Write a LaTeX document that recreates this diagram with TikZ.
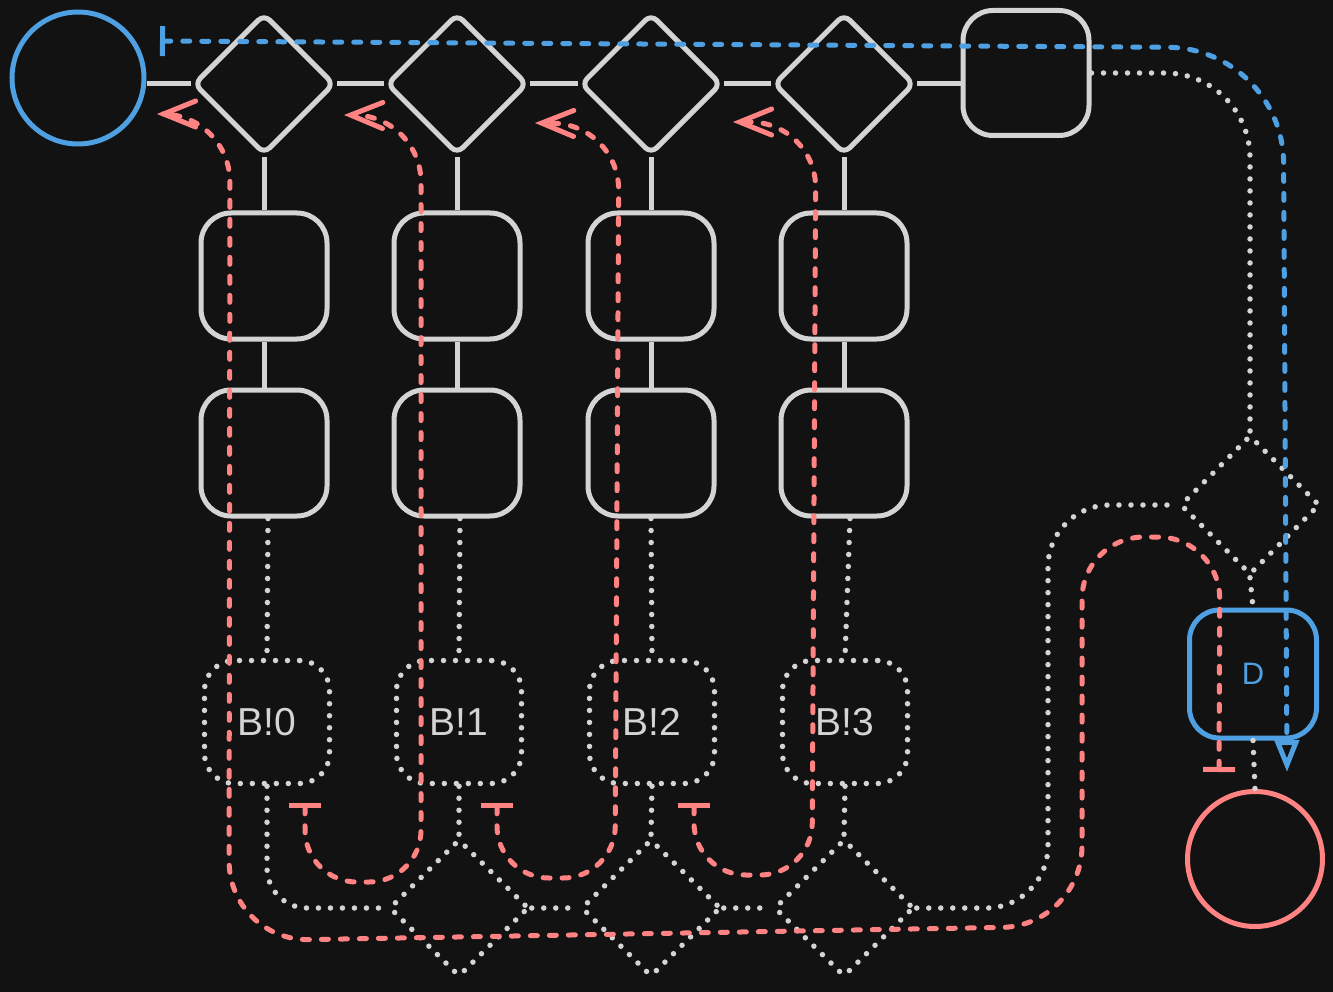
\documentclass[tikz,border=0pt]{standalone}
\usepackage{fontspec}
\setmainfont{Liberation Sans}
\usetikzlibrary{shapes.geometric,arrows.meta}
\definecolor{bg}{HTML}{121212}
\definecolor{fg}{HTML}{D4D4D4}
\definecolor{bl}{HTML}{4FA0E2}
\definecolor{rd}{HTML}{FF8383}
\tikzset{
  sbox/.style={draw=fg, line width=5pt, rounded corners=30pt, minimum width=126pt, minimum height=126pt, inner sep=0pt},
  dbox/.style={draw=fg, line width=5.5pt, line cap=round, dash pattern=on 0pt off 12pt, rounded corners=30pt, minimum width=125pt, minimum height=123pt, inner sep=0pt, text=fg, font=\fontsize{39}{40}\selectfont},
  diam/.style={diamond, draw=fg, line width=5pt, minimum width=141pt, minimum height=141pt, inner sep=0pt, rounded corners=8pt},
  ddiam/.style={diamond, draw=fg, line width=5.5pt, line cap=round, dash pattern=on 0pt off 12pt, minimum width=140pt, minimum height=138pt, inner sep=0pt, rounded corners=4pt},
  gline/.style={draw=fg, line width=5pt},
  dline/.style={draw=fg, line width=5.5pt, line cap=round, dash pattern=on 0pt off 12pt},
  rdash/.style={draw=rd, line width=5pt, line cap=round, dash pattern=on 7pt off 12pt},
  bdash/.style={draw=bl, line width=5pt, line cap=round, dash pattern=on 7pt off 12pt},
  barb/.tip={Straight Barb[length=32pt,width=26pt,line cap=round]},
}
\begin{document}
\begin{tikzpicture}[x=1pt,y=-1pt]
\useasboundingbox (0,0) rectangle (1333,992);
\fill[bg] (0,0) rectangle (1333,992);

% top row
\node[circle, draw=bl, line width=5pt, minimum size=132pt, inner sep=0pt] (circ) at (78,78) {};
\foreach \i/\x in {1/264,2/457,3/651,4/844} {
  \node[diam] (D\i) at (\x,84) {};
  \node[sbox] (P\i) at (\x,276) {};
  \node[sbox] (Q\i) at (\x,453) {};
}
\node[sbox, minimum height=125pt] (TR) at (1026,73) {};

% dotted boxes
\node[dbox] (B1) at (267,722) {B!0};
\node[dbox] (B2) at (459,722) {B!1};
\node[dbox] (B3) at (652,722) {B!2};
\node[dbox] (B4) at (845,722) {B!3};

% bottom dotted diamonds
\node[ddiam] (E1) at (459,908) {};
\node[ddiam] (E2) at (651,908) {};
\node[ddiam] (E3) at (844,908) {};

% right side
\node[ddiam, minimum height=140pt] (RD) at (1250,505) {};
\node[draw=bl, line width=5pt, rounded corners=30pt, minimum width=127pt, minimum height=128pt, inner sep=0pt, text=bl, font=\fontsize{31}{32}\selectfont] (DB) at (1253,674) {D};
\node[circle, draw=rd, line width=5pt, minimum size=135pt, inner sep=0pt] (rcirc) at (1255,859) {};

% solid connectors
\draw[gline] (D1.west) -- (D1.west -| circ.east);
\draw[gline] (D1.east) -- (D2.west);
\draw[gline] (D2.east) -- (D3.west);
\draw[gline] (D3.east) -- (D4.west);
\draw[gline] (D4.east) -- (TR.west |- D4.east);
\foreach \i in {1,2,3,4} {
  \draw[gline] (D\i.south) -- (P\i.north);
  \draw[gline] (P\i.south) -- (Q\i.north);
}

% dotted connectors
\draw[dline] (Q1.south) ++(4,0) -- (B1.north);
\draw[dline] (Q2.south) ++(3,0) -- (B2.north);
\draw[dline] (Q3.south) -- (B3.north);
\draw[dline] (Q4.south) ++(6,0) -- (B4.north);
\draw[dline, rounded corners=40pt] (B1.south) |- (E1.west);
\draw[dline] (B2.south) -- (E1.north);
\draw[dline] (B3.south) -- (E2.north);
\draw[dline] (B4.south) -- (E3.north);
\draw[dline] (E1.east) -- (E2.west);
\draw[dline] (E2.east) -- (E3.west);
\draw[dline, rounded corners=62pt] (E3.east) -| (1048,700) |- (RD.west);
\draw[dline, rounded corners=85pt] (TR.east) -| (RD.north);
\draw[dline] (RD.south) -- (DB.north);
\draw[dline] (DB.south) -- (rcirc.north);

% blue dashed
\coordinate (bs) at (160,41);
\coordinate (be) at (1287,772);
\draw[bdash, {Bar[width=30pt]}-{Triangle[open,length=32pt,width=24pt]}, rounded corners=115pt] (bs) -- (1283,48) -- (be);

% red dashed
\coordinate (ra0) at (1219,772);
\coordinate (re0) at (157,114);
\draw[rdash, {Bar[width=32pt]}-barb, rounded corners=62pt] (ra0) -- (1220,537) -- (1082,537) [rounded corners=80pt] -- (1082,926) -- (229,941) [rounded corners=68pt] -- (230,114) -- (re0);

\coordinate (ra1) at (305,803);
\coordinate (re1) at (344,115);
\draw[rdash, {Bar[width=32pt]}-barb, rounded corners=52pt] (ra1) -- (305,882) -- (421,882) [rounded corners=66pt] -- (421,116) -- (re1);

\coordinate (ra2) at (497,803);
\coordinate (re2) at (535,123);
\draw[rdash, {Bar[width=32pt]}-barb, rounded corners=52pt] (ra2) -- (497,878) -- (615,878) [rounded corners=66pt] -- (619,124) -- (re2);

\coordinate (ra3) at (694,803);
\coordinate (re3) at (733,122);
\draw[rdash, {Bar[width=32pt]}-barb, rounded corners=52pt] (ra3) -- (694,875) -- (812,875) [rounded corners=66pt] -- (816,122) -- (re3);
\end{tikzpicture}
\end{document}
